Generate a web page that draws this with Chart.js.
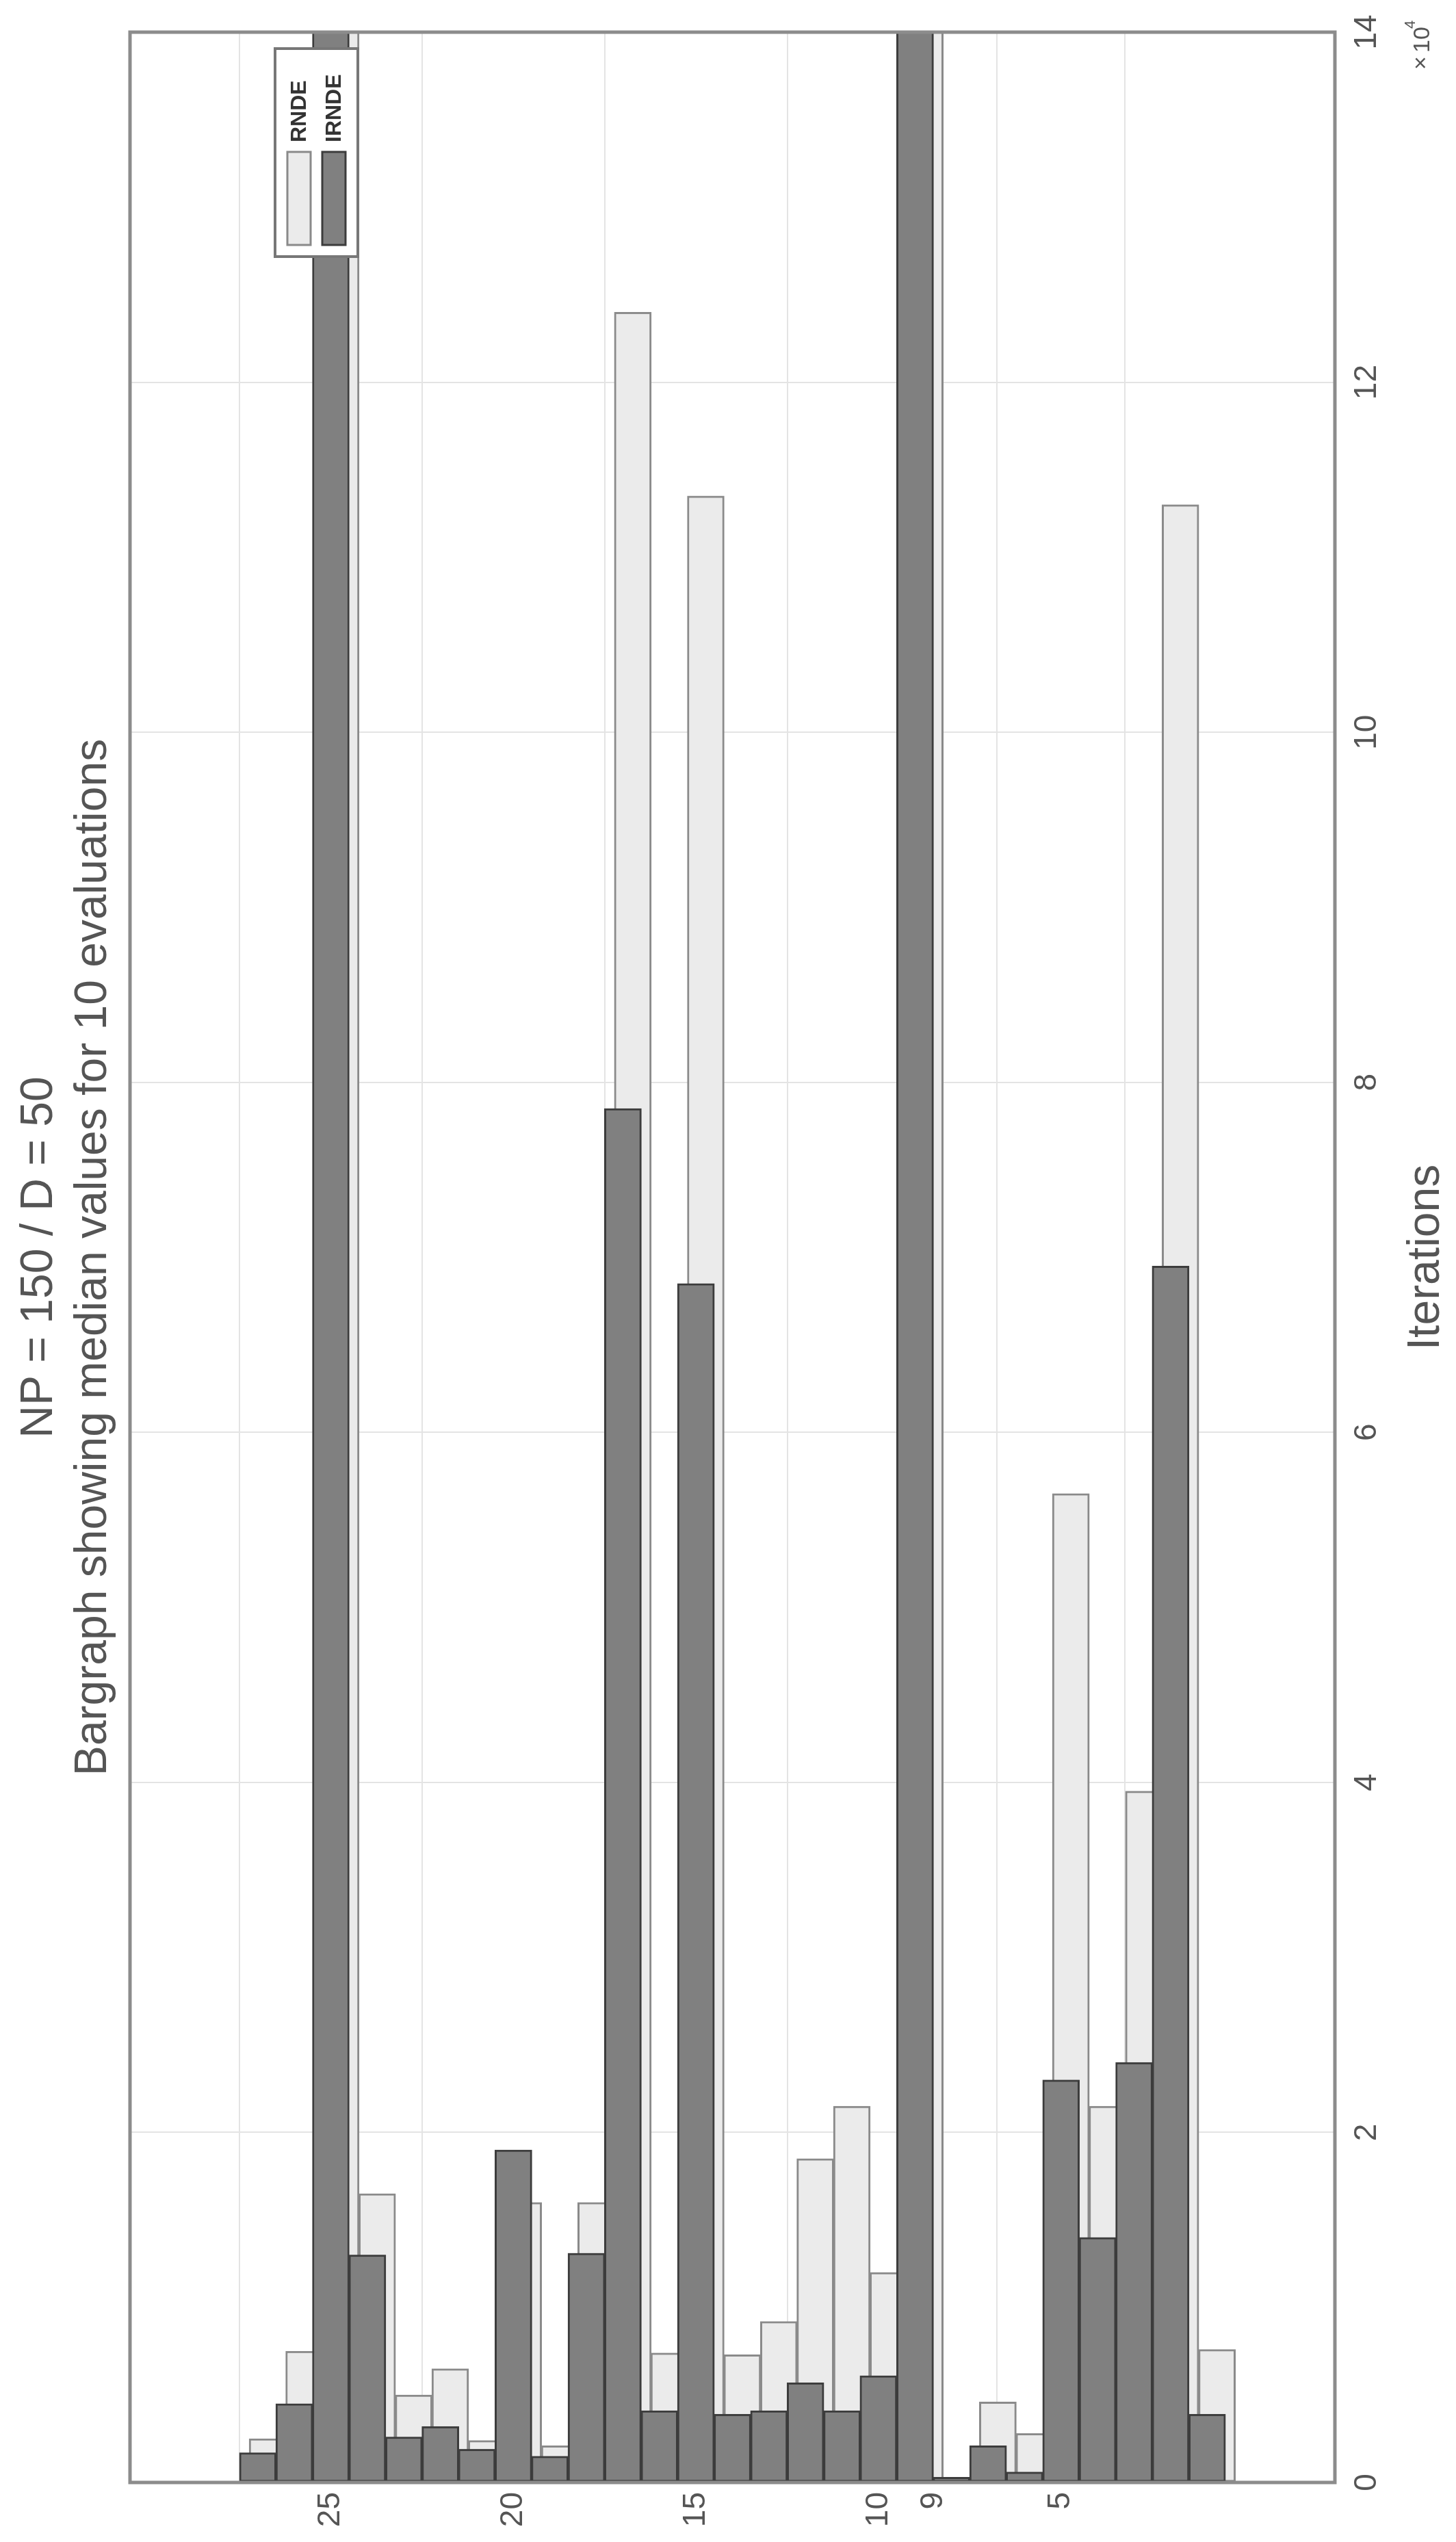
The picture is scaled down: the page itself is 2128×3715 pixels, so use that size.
<!DOCTYPE html>
<html>
<head>
<meta charset="utf-8">
<script src="https://cdn.jsdelivr.net/npm/chart.js@4"></script>
<style>
  html, body { margin: 0; padding: 0; background: #fff; overflow: hidden; }
  body { width: 2128px; height: 3715px; position: relative; }
  /* chart is drawn landscape, then turned a quarter turn to the left like the scan */
  #wrap { position: absolute; left: 0; top: 0; width: 3715px; height: 2128px;
          transform-origin: 0 0; transform: translate(0, 3715px) rotate(-90deg); }
</style>
</head>
<body>
<div id="wrap"><canvas id="myChart" width="3715" height="2128"></canvas></div>
<script>
// Data (iterations), categories 27 down to 1
const CATEGORIES = [27, 26, 25, 24, 23, 22, 21, 20, 19, 18, 17, 16, 15, 14,
                    13, 12, 11, 10, 9, 8, 7, 6, 5, 4, 3, 2, 1];
const RNDE = [2500, 7500, 150000, 16500, 5000, 6500, 2400, 16000, 2100, 16000, 124000, 7400, 113500, 7300,
              9200, 18500, 21500, 12000, 150000, 200, 4600, 2800, 56500, 21500, 39500, 113000, 7600];
const IRNDE = [1700, 4500, 150000, 13000, 2600, 3200, 1900, 19000, 1500, 13100, 78500, 4100, 68500, 3900,
               4100, 5700, 4100, 6100, 150000, 300, 2100, 600, 23000, 14000, 24000, 69500, 3900];
const CAT_TICKS = [5, 8.5, 10, 15, 20, 25];
const CAT_TICK_LABELS = ['5', '9', '10', '15', '20', '25'];
const X_TICKS = [0, 2, 4, 6, 8, 10, 12, 14];
const SERIES_NAMES = ['RNDE', 'IRNDE'];

const FONT = 'Liberation Sans, Arial, sans-serif';
const TXT = '#555555';

// separator line between 9 and 8, under the bars
const separator = {
  id: 'separator',
  beforeDatasetsDraw(chart) {
    const c = chart.ctx, a = chart.chartArea;
    const y = chart.scales.y.getPixelForValue(8.5);
    c.save();
    c.strokeStyle = '#444';
    c.lineWidth = 5;
    c.beginPath();
    c.moveTo(a.left, y);
    c.lineTo(a.right, y);
    c.stroke();
    c.restore();
  }
};

// Titles, exponent label and legend drawn on top
const extras = {
  id: 'extras',
  afterDraw(chart) {
    const c = chart.ctx, a = chart.chartArea;
    const mid = (a.left + a.right) / 2;
    c.save();
    c.fillStyle = TXT;
    c.textAlign = 'center';
    c.textBaseline = 'middle';
    c.font = '66px ' + FONT;
    c.fillText('NP = 150 / D = 50', mid, 58);
    c.fillText('Bargraph showing median values for 10 evaluations', mid, 137);
    c.font = '34px ' + FONT;
    c.textAlign = 'left';
    c.fillText('\u00d7', a.right - 55, 2078);
    c.fillText('10', a.right - 30, 2080);
    c.font = '22px ' + FONT;
    c.fillText('4', a.right + 5, 2062);
    // box around the plot
    c.strokeStyle = '#8c8c8c';
    c.lineWidth = 5;
    c.strokeRect(a.left, a.top, a.right - a.left, a.bottom - a.top);
    // legend
    const lx = 3340, ly = 402, lw = 304, lh = 121;
    c.fillStyle = '#fff';
    c.fillRect(lx, ly, lw, lh);
    c.strokeStyle = '#777';
    c.lineWidth = 4;
    c.strokeRect(lx, ly, lw, lh);
    const rows = [[437, '#ebebeb', '#8a8a8a'], [488, '#808080', '#3c3c3c']];
    rows.forEach((r, i) => {
      c.fillStyle = r[1];
      c.fillRect(3357, r[0] - 17, 136, 34);
      c.strokeStyle = r[2];
      c.lineWidth = 3;
      c.strokeRect(3357, r[0] - 17, 136, 34);
      c.fillStyle = '#333';
      c.font = 'bold 32px ' + FONT;
      c.textAlign = 'left';
      c.fillText(SERIES_NAMES[i], 3507, r[0] + 1);
    });
    c.restore();
  }
};

const ctx = document.getElementById('myChart').getContext('2d');
new Chart(ctx, {
  type: 'bar',
  data: {
    datasets: [
      {
        label: SERIES_NAMES[1],
        data: CATEGORIES.map((cat, i) => ({ x: IRNDE[i], y: cat })),
        backgroundColor: '#808080',
        borderColor: '#3c3c3c',
        borderWidth: 3,
        borderSkipped: false,
        order: 1
      },
      {
        label: SERIES_NAMES[0],
        // light bars sit a little off centre, behind the dark ones
        data: CATEGORIES.map((cat, i) => ({ x: RNDE[i], y: cat - 0.27 })),
        backgroundColor: '#ebebeb',
        borderColor: '#8a8a8a',
        borderWidth: 3,
        borderSkipped: false,
        order: 2
      }
    ]
  },
  options: {
    indexAxis: 'y',
    responsive: false,
    devicePixelRatio: 1,
    animation: false,
    layout: { padding: { top: 190, right: 47, left: 0, bottom: 0 } },
    datasets: { bar: { grouped: false, barThickness: 54 } },
    plugins: { legend: { display: false }, title: { display: false }, tooltip: { enabled: false } },
    scales: {
      x: {
        type: 'linear', min: 0, max: 140000,
        afterFit: s => { s.height = 177; },
        afterBuildTicks: s => { s.ticks = X_TICKS.map(v => ({ value: v * 10000 })); },
        ticks: { callback: v => String(v / 10000), color: TXT, font: { size: 46, family: FONT }, padding: 20, maxRotation: 0 },
        grid: { color: '#e4e4e4', lineWidth: 2, drawTicks: false },
        border: { display: false },
        title: { display: true, text: 'Iterations', color: TXT, font: { size: 66, family: FONT }, padding: { top: 6 } }
      },
      y: {
        type: 'linear', min: 0.25, max: 27.75,
        afterFit: s => { s.width = 87; },
        afterBuildTicks: s => { s.ticks = CAT_TICKS.map(v => ({ value: v })); },
        ticks: {
          callback: v => CAT_TICK_LABELS[CAT_TICKS.indexOf(v)],
          color: TXT, font: { size: 46, family: FONT }, padding: 14
        },
        grid: { color: '#e4e4e4', lineWidth: 2, drawTicks: false },
        border: { display: false }
      }
    }
  },
  plugins: [separator, extras]
});
</script>
</body>
</html>
